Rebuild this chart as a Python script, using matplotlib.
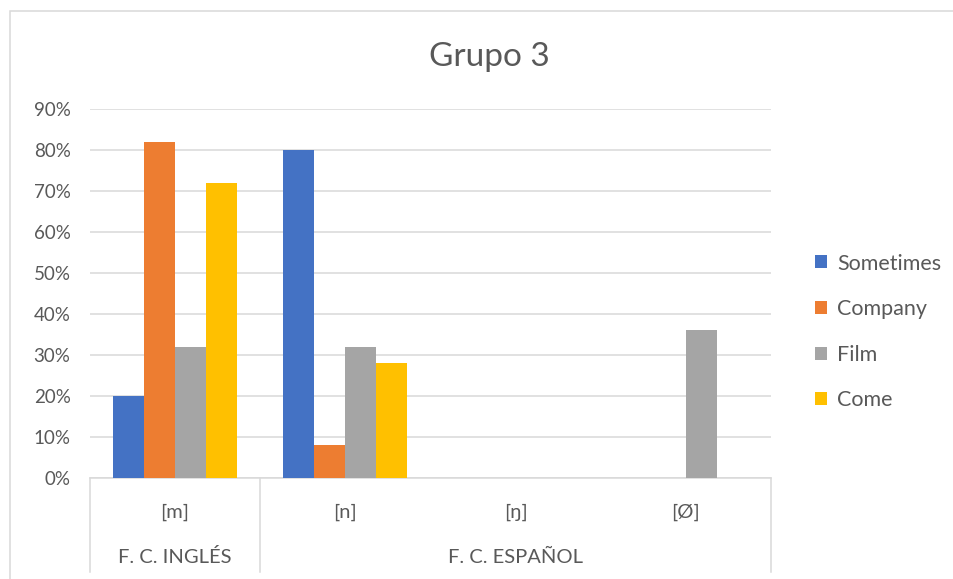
import matplotlib
matplotlib.use("Agg")
import matplotlib.pyplot as plt
import numpy as np
from matplotlib.patches import Rectangle
from matplotlib.ticker import PercentFormatter

# phonetic realisations, grouped by the source language of the form
categories = ["[m]", "[n]", "[ŋ]", "[Ø]"]
groups = ["F. C. INGLÉS", "F. C. ESPAÑOL"]
group_sizes = [1, 3]

series = ["Sometimes", "Company", "Film", "Come"]
sometimes = [20, 80, 0, 0]
company = [82, 8, 0, 0]
film = [32, 32, 0, 36]
come = [72, 28, 0, 0]

colors = ["#4472C4", "#ED7D31", "#A5A5A5", "#FFC000"]
TEXT = "#595959"
GRID = "#D9D9D9"

plt.rcParams["font.family"] = ["Lato", "DejaVu Sans"]

fig = plt.figure(figsize=(9.54, 5.79), dpi=100)
W, H = 954, 579
ax = fig.add_axes([90 / W, 1 - 478 / H, (771 - 90) / W, (478 - 109) / H])

x = np.arange(len(categories))
gap = 1.5  # gap between clusters, in bar widths
bw = 1.0 / (len(series) + gap)
for i, (name, vals) in enumerate(zip(series, [sometimes, company, film, come])):
    off = (i - (len(series) - 1) / 2) * bw
    ax.bar(x + off, vals, bw, color=colors[i], label=name, linewidth=0, zorder=3)

ax.set_xlim(-0.5, len(categories) - 0.5)
ax.set_ylim(0, 90)
ax.set_yticks(range(0, 91, 10))
ax.yaxis.set_major_formatter(PercentFormatter(decimals=0))
ax.tick_params(axis="y", length=0, pad=14, labelsize=13.5, labelcolor=TEXT)
ax.set_xticks([])
ax.grid(True, axis="y", color=GRID, linewidth=1.1, zorder=0)
for s in ("top", "right", "left"):
    ax.spines[s].set_visible(False)
ax.spines["bottom"].set_color(GRID)
ax.spines["bottom"].set_linewidth(1.1)

# two-level category axis: labels, group labels and separators
trans = ax.get_xaxis_transform()
for xi, c in zip(x, categories):
    ax.text(xi, -0.092, c, transform=trans, ha="center", va="center",
            fontsize=14.5, color=TEXT)
start = 0
edges = [-0.5]
for g, n in zip(groups, group_sizes):
    ax.text(start + (n - 1) / 2, -0.214, g, transform=trans, ha="center",
            va="center", fontsize=14.5, color=TEXT)
    start += n
    edges.append(start - 0.5)
for e in edges:
    ax.plot([e, e], [0, -0.255], transform=trans, color=GRID, linewidth=1.1,
            clip_on=False)

leg = fig.legend(loc="center left", bbox_to_anchor=(796 / W, 1 - 332 / H),
                 frameon=False, fontsize=15.5, handlelength=0.55,
                 handleheight=0.55, handletextpad=0.45, labelspacing=1.19)
for t in leg.get_texts():
    t.set_color(TEXT)

fig.text(489 / W, 1 - 57 / H, "Grupo 3", ha="center", va="center",
         fontsize=24, color=TEXT)

# chart area border
fig.add_artist(Rectangle((10 / W, -0.1), 1.2, 1 - 11 / H + 0.1,
                         transform=fig.transFigure, fill=False,
                         edgecolor=GRID, linewidth=1.1))

fig.savefig("out.png", dpi=100, facecolor="white")
